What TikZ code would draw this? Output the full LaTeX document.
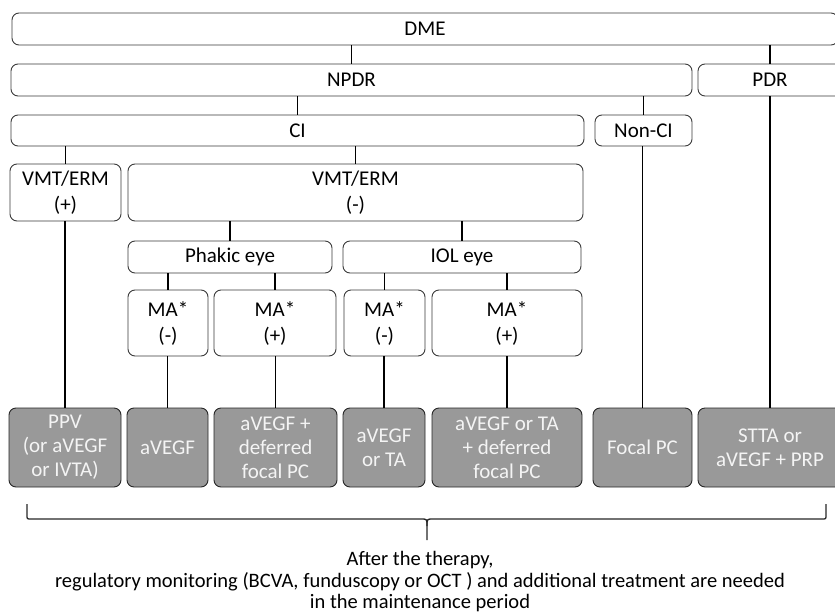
\documentclass[tikz,border=0pt]{standalone}
\usepackage{fontspec}
\setmainfont{Carlito}
\usetikzlibrary{positioning}
\definecolor{boxline}{HTML}{3A3A3A}
\definecolor{treatfill}{HTML}{999999}
\definecolor{treattext}{HTML}{F4F4F4}
\tikzset{
  box/.style={draw=boxline, line width=0.9pt, rounded corners=7pt, align=center,
    inner sep=0pt, font=\fontsize{21}{26}\selectfont},
  treat/.style={box, fill=treatfill, text=treattext, draw=black!85,
    font=\fontsize{21}{24}\selectfont},
  link/.style={line width=1.6pt},
  bracket/.style={line width=1.3pt, black!85}
}
\newcommand{\myBox}[6]{
    \node[box, minimum width=#4pt, minimum height=#5pt] (#1) at (#2,#3) {#6};
}
\newcommand{\myTreat}[4]{
    \node[treat, minimum width=#3pt, minimum height=79pt] (#1) at (#2,447.5) {#4};
}

\begin{document}
\begin{tikzpicture}[x=1pt, y=-1pt]
      \useasboundingbox (0,0) rectangle (835,613);
      \clip (0,0) rectangle (835,613);

      \myBox{dme}{425}{29}{826}{32}{DME}

      \myBox{npdr}{351.5}{80}{681}{32}{NPDR}
      \myBox{pdr}{770}{80}{144}{32}{PDR}

      \myBox{ci}{297.5}{130.5}{573}{31}{CI}
      \myBox{nonci}{643.5}{130.5}{97}{31}{Non-CI}

      \myBox{vmtp}{65.5}{192.5}{111}{57}{VMT/ERM\\(+)}
      \myBox{vmtm}{355.5}{192.5}{455}{57}{VMT/ERM\\(-)}

      \myBox{phakic}{230}{257}{204}{32}{Phakic eye}
      \myBox{iol}{462}{257}{238}{32}{IOL eye}

      \myBox{ma1}{168}{323}{80}{66}{MA*\\(-)}
      \myBox{ma2}{275}{323}{122}{66}{MA*\\(+)}
      \myBox{ma3}{384.5}{323}{81}{66}{MA*\\(-)}
      \myBox{ma4}{507}{323}{150}{66}{MA*\\(+)}

      \myTreat{t1}{65}{112}{PPV\\(or aVEGF\\or IVTA)}
      \myTreat{t2}{167.5}{81}{aVEGF}
      \myTreat{t3}{275.5}{123}{aVEGF +\\deferred\\focal PC}
      \myTreat{t4}{384}{82}{aVEGF\\or TA}
      \myTreat{t5}{507}{150}{aVEGF or TA\\+ deferred\\focal PC}
      \myTreat{t6}{642.5}{99}{Focal PC}
      \myTreat{t7}{770}{144}{STTA or\\aVEGF + PRP}

      % vertical links, child up to parent
      \foreach \parent/\child in {dme/npdr, dme/pdr, npdr/ci, npdr/nonci,
          ci/vmtp, ci/vmtm, vmtm/phakic, vmtm/iol,
          phakic/ma1, phakic/ma2, iol/ma3, iol/ma4,
          vmtp/t1, ma1/t2, ma2/t3, ma3/t4, ma4/t5, nonci/t6, pdr/t7}
        \draw[link] (\child.north) -- (\child.north |- \parent.south);

      % brace under the treatments
      \draw[bracket] (27,504) -- (27,515) .. controls (27,519) .. (31,519)
          -- (421,519) .. controls (427,519) .. (427,526) -- (427,540);
      \draw[bracket] (427,526) .. controls (427,519) .. (433,519)
          -- (822,519) .. controls (826,519) .. (826,515) -- (826,504);

      \node[align=center, font=\fontsize{20.5}{21.5}\selectfont] (note) at (420,582)
          {After the therapy,\\
           regulatory monitoring (BCVA, funduscopy or OCT ) and additional treatment are needed\\
           in the maintenance period};
\end{tikzpicture}
\end{document}
